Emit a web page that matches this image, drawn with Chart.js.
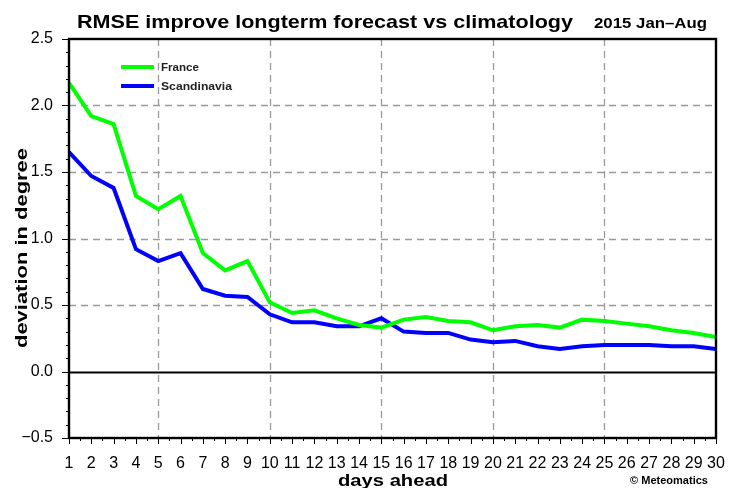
<!DOCTYPE html>
<html>
<head>
<meta charset="utf-8">
<script src="https://cdn.jsdelivr.net/npm/chart.js@4.4.0/dist/chart.umd.min.js"></script>
<style>
html,body{margin:0;padding:0;background:#fff;}
#wrap{width:742px;height:488px;position:relative;}
</style>
</head>
<body>
<div id="wrap"><canvas id="c" width="742" height="488"></canvas></div>
<script>
const days = [1,2,3,4,5,6,7,8,9,10,11,12,13,14,15,16,17,18,19,20,21,22,23,24,25,26,27,28,29,30];
const france = [2.17,1.92,1.86,1.32,1.22,1.32,0.89,0.76,0.83,0.52,0.44,0.46,0.40,0.35,0.33,0.39,0.41,0.38,0.37,0.31,0.34,0.35,0.33,0.39,0.38,0.36,0.34,0.31,0.29,0.26];
const scandinavia = [1.65,1.47,1.38,0.92,0.83,0.89,0.62,0.57,0.56,0.43,0.37,0.37,0.34,0.34,0.40,0.30,0.29,0.29,0.24,0.22,0.23,0.19,0.17,0.19,0.20,0.20,0.20,0.19,0.19,0.17];
const seriesNames = ['France','Scandinavia'];
const seriesColors = ['#00ff00','#0000ff'];
const yTicks = [-0.5,0,0.5,1.0,1.5,2.0,2.5];
const xGridDays = [5,10,15,20,25];
const titleText = 'RMSE improve longterm forecast vs climatology';
const subTitleText = '2015 Jan\u2013Aug';
const yTitle = 'deviation in degree';
const xTitle = 'days ahead';
const credit = '\u00a9 Meteomatics';

const FONT = "'Liberation Sans', Arial, Helvetica, sans-serif";

// draw text left-aligned at x, stretched horizontally to a target width
function fitText(ctx, text, x, y, target) {
  const w = ctx.measureText(text).width;
  ctx.save();
  ctx.translate(x, y);
  ctx.scale(target / w, 1);
  ctx.fillText(text, 0, 0);
  ctx.restore();
}

const decor = {
  id: 'decor',
  beforeDatasetsDraw(chart) {
    const {ctx, chartArea: a, scales: {x, y}} = chart;
    ctx.save();
    ctx.strokeStyle = '#9a9a9a';
    ctx.lineWidth = 1.3;
    ctx.setLineDash([7,5]);
    for (const v of xGridDays) {
      const px = Math.round(x.getPixelForValue(v)) + 0.5;
      ctx.beginPath(); ctx.moveTo(px, a.top); ctx.lineTo(px, a.bottom); ctx.stroke();
    }
    for (const v of yTicks) {
      if (v === 0 || v === -0.5 || v === 2.5) continue;
      const py = Math.round(y.getPixelForValue(v)) + 0.5;
      ctx.beginPath(); ctx.moveTo(a.left, py); ctx.lineTo(a.right, py); ctx.stroke();
    }
    ctx.setLineDash([]);
    ctx.strokeStyle = '#000';
    ctx.lineWidth = 1.8;
    const z = Math.round(y.getPixelForValue(0)) + 0.5;
    ctx.beginPath(); ctx.moveTo(a.left, z); ctx.lineTo(a.right, z); ctx.stroke();
    ctx.restore();
  },
  afterDatasetsDraw(chart) {
    const {ctx, chartArea: a, scales: {x, y}} = chart;
    ctx.save();
    ctx.strokeStyle = '#000';
    ctx.lineWidth = 1;
    for (let i = -5; i <= 25; i++) {
      const py = Math.round(y.getPixelForValue(i / 10)) + 0.5;
      const len = (i % 5 === 0) ? 7 : 3;
      ctx.beginPath(); ctx.moveTo(a.left, py); ctx.lineTo(a.left - len, py); ctx.stroke();
    }
    for (let i = 2; i <= 60; i++) {
      const px = Math.round(x.getPixelForValue(i / 2)) + 0.5;
      const len = (i % 2 === 0) ? 6 : 3;
      ctx.beginPath(); ctx.moveTo(px, a.bottom); ctx.lineTo(px, a.bottom + len); ctx.stroke();
    }
    ctx.lineWidth = 2.4;
    ctx.strokeRect(a.left, a.top, a.right - a.left, a.bottom - a.top);
    ctx.restore();
  },
  afterDraw(chart) {
    const {ctx} = chart;
    ctx.save();
    ctx.fillStyle = '#000';
    ctx.textBaseline = 'alphabetic';
    ctx.textAlign = 'left';
    ctx.font = 'bold 19px ' + FONT;
    fitText(ctx, titleText, 77, 28, 496);
    ctx.font = 'bold 15px ' + FONT;
    fitText(ctx, subTitleText, 594, 28, 113);
    const lx = 121, ly = [67, 86];
    for (let i = 0; i < seriesNames.length; i++) {
      ctx.strokeStyle = seriesColors[i];
      ctx.lineWidth = 4;
      ctx.beginPath(); ctx.moveTo(lx, ly[i]); ctx.lineTo(lx + 33, ly[i]); ctx.stroke();
      ctx.fillStyle = '#222';
      ctx.font = 'bold 11px ' + FONT;
      fitText(ctx, seriesNames[i], lx + 40, ly[i] + 4, i === 0 ? 38 : 71);
    }
    ctx.fillStyle = '#000';
    ctx.font = 'bold 17px ' + FONT;
    fitText(ctx, xTitle, 338, 486, 110);
    ctx.save();
    ctx.translate(27, 348);
    ctx.rotate(-Math.PI / 2);
    fitText(ctx, yTitle, 0, 0, 200);
    ctx.restore();
    ctx.font = 'bold 10px ' + FONT;
    fitText(ctx, credit, 630, 484, 78);
    ctx.restore();
  }
};

new Chart(document.getElementById('c'), {
  type: 'line',
  data: {
    datasets: [
      { label: seriesNames[0], data: days.map((d, i) => ({x: d, y: france[i]})), borderColor: seriesColors[0], borderWidth: 4, pointRadius: 0, tension: 0, fill: false },
      { label: seriesNames[1], data: days.map((d, i) => ({x: d, y: scandinavia[i]})), borderColor: seriesColors[1], borderWidth: 4, pointRadius: 0, tension: 0, fill: false }
    ]
  },
  options: {
    responsive: false,
    animation: false,
    layout: { padding: { left: 0, top: 39, right: 26, bottom: 0 } },
    plugins: { legend: { display: false }, tooltip: { enabled: false }, title: { display: false } },
    scales: {
      x: {
        type: 'linear', min: 1, max: 30,
        afterBuildTicks(s) { s.ticks = days.map(v => ({value: v})); },
        afterFit(s) { s.height = 50; },
        grid: { display: false },
        border: { display: false },
        ticks: { autoSkip: false, maxRotation: 0, minRotation: 0, padding: 8, color: '#000', font: { family: FONT, size: 16 }, callback: v => String(v) }
      },
      y: {
        type: 'linear', min: -0.5, max: 2.5,
        afterBuildTicks(s) { s.ticks = yTicks.map(v => ({value: v})); },
        afterFit(s) { s.width = 69; },
        grid: { display: false },
        border: { display: false },
        ticks: { padding: 8, color: '#000', font: { family: FONT, size: 16 }, callback: v => v.toFixed(1).replace('-', '\u2212') }
      }
    }
  },
  plugins: [decor]
});
</script>
</body>
</html>
